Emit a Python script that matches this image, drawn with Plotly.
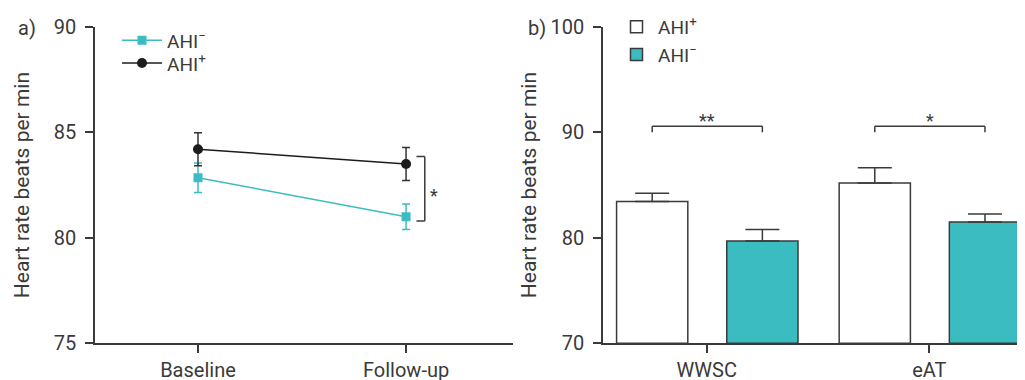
import plotly.graph_objects as go

# ---- data: panel a) ----
time_points = ["Baseline", "Follow-up"]
ahi_neg_hr = [82.85, 81.0]
ahi_neg_sem = [0.7, 0.6]
ahi_pos_hr = [84.2, 83.5]
ahi_pos_sem = [0.78, 0.78]
left_ticks = [75, 80, 85, 90]

# ---- data: panel b) ----
settings = ["WWSC", "eAT"]
bar_pos_hr = [83.45, 85.2]
bar_pos_sem = [0.78, 1.44]
bar_neg_hr = [79.7, 81.5]
bar_neg_sem = [1.1, 0.75]
right_ticks = [70, 80, 90, 100]

TEAL = "#3bbcc0"
DARK = "#1c1c1c"
AXC = "#3a3a3a"
FONT = "Roboto, 'Open Sans', sans-serif"
# page body has an 8px margin: figure is placed at (8, 8) in the window
OFF = 8
W, H = 1025 - OFF, 380 - OFF


def px(xw):
    return (xw - OFF) / W


def py(yw):
    return 1 - (yw - OFF) / H


fig = go.Figure()

# panel a) lines
fig.add_trace(go.Scatter(
    x=time_points, y=ahi_neg_hr, name="AHI<sup>−</sup>", mode="lines+markers",
    line=dict(color=TEAL, width=1.5), marker=dict(symbol="square", size=9, color=TEAL),
    error_y=dict(type="data", array=ahi_neg_sem, color=TEAL, thickness=1.5, width=4),
    xaxis="x", yaxis="y", legend="legend", showlegend=True))
fig.add_trace(go.Scatter(
    x=time_points, y=ahi_pos_hr, name="AHI<sup>+</sup>", mode="lines+markers",
    line=dict(color=DARK, width=1.5), marker=dict(symbol="circle", size=10, color=DARK),
    error_y=dict(type="data", array=ahi_pos_sem, color="#333333", thickness=1.5, width=4),
    xaxis="x", yaxis="y", legend="legend3", showlegend=True))

# panel b) bars
BW = 0.32
OFF_POS, OFF_NEG = -0.405, 0.09
fig.add_trace(go.Bar(
    x=settings, y=[v - right_ticks[0] for v in bar_pos_hr], base=right_ticks[0],
    name="AHI<sup>+</sup>", width=BW, offset=OFF_POS,
    marker=dict(color="white", line=dict(color=AXC, width=1.5)),
    error_y=dict(type="data", symmetric=False, array=bar_pos_sem, arrayminus=[0, 0],
                 color=AXC, thickness=1.5, width=17),
    xaxis="x2", yaxis="y2", legend="legend2", showlegend=True))
fig.add_trace(go.Bar(
    x=settings, y=[v - right_ticks[0] for v in bar_neg_hr], base=right_ticks[0],
    name="AHI<sup>−</sup>", width=BW, offset=OFF_NEG,
    marker=dict(color=TEAL, line=dict(color=AXC, width=1.5)),
    error_y=dict(type="data", symmetric=False, array=bar_neg_sem, arrayminus=[0, 0],
                 color=AXC, thickness=1.5, width=17),
    xaxis="x2", yaxis="y2", legend="legend2", showlegend=True))

shapes = []
annotations = []

# significance bracket panel a) (at follow-up)
bx = 1 + 0.09
by0 = ahi_neg_hr[1] - 0.2
by1 = ahi_pos_hr[1] + 0.35
for yy in (by0, by1):
    shapes.append(dict(type="line", xref="x", yref="y", x0=bx - 0.04, x1=bx, y0=yy, y1=yy,
                       line=dict(color=AXC, width=1.5)))
shapes.append(dict(type="line", xref="x", yref="y", x0=bx, x1=bx, y0=by0, y1=by1,
                   line=dict(color=AXC, width=1.5)))
annotations.append(dict(text="*", xref="x", yref="y", x=bx + 0.045, y=(by0 + by1) / 2 - 0.3,
                        showarrow=False, xanchor="center", yanchor="middle",
                        font=dict(size=18, color=AXC, family=FONT)))

# significance brackets panel b)
stars = ["**", "*"]
for i, s in enumerate(stars):
    xa = i + OFF_POS + BW / 2
    xb = i + OFF_NEG + BW / 2
    ytop, ybot = 90.57, 90.0
    shapes.append(dict(type="line", xref="x2", yref="y2", x0=xa, x1=xb, y0=ytop, y1=ytop,
                       line=dict(color=AXC, width=1.5)))
    for xx in (xa, xb):
        shapes.append(dict(type="line", xref="x2", yref="y2", x0=xx, x1=xx, y0=ybot, y1=ytop,
                           line=dict(color=AXC, width=1.5)))
    annotations.append(dict(text=s, xref="x2", yref="y2", x=(xa + xb) / 2, y=ytop - 0.63,
                            showarrow=False, xanchor="center", yanchor="bottom",
                            font=dict(size=18, color=AXC, family=FONT)))

# panel labels
annotations.append(dict(text="a)", xref="paper", yref="paper", x=px(16), y=py(25),
                        xanchor="left", yanchor="middle", showarrow=False,
                        font=dict(size=20, color=AXC, family=FONT)))
annotations.append(dict(text="b)", xref="paper", yref="paper", x=px(526), y=py(25),
                        xanchor="left", yanchor="middle", showarrow=False,
                        font=dict(size=20, color=AXC, family=FONT)))

ydom = [py(343), py(24)]
axis_common = dict(showline=True, linecolor=AXC, linewidth=1.5, ticks="outside",
                   ticklen=8, tickwidth=1.5, tickcolor=AXC, showgrid=False, zeroline=False,
                   tickfont=dict(size=20, color=AXC, family=FONT), automargin=False)

legend_common = dict(xanchor="left", yanchor="top", bgcolor="rgba(0,0,0,0)",
                     font=dict(size=19, color=AXC, family=FONT))

fig.update_layout(
    width=W, height=H, margin=dict(l=0, r=0, t=0, b=0),
    plot_bgcolor="white", paper_bgcolor="white",
    font=dict(family=FONT, color=AXC),
    barmode="overlay", showlegend=True,
    xaxis=dict(domain=[px(95), px(513)], type="category", range=[-0.495, 1.514],
               anchor="y", ticklabelstandoff=0, **axis_common),
    yaxis=dict(domain=ydom, range=[75, 90], tickvals=left_ticks, anchor="x",
               ticklabelstandoff=5,
               title=dict(text="Heart rate beats per min", standoff=18,
                          font=dict(size=21, color=AXC, family=FONT)),
               **axis_common),
    xaxis2=dict(domain=[px(603), px(1021.7)], type="category", range=[-0.466, 1.415],
                anchor="y2", ticklabelstandoff=0, **axis_common),
    yaxis2=dict(domain=ydom, range=[70, 100], tickvals=right_ticks, anchor="x2",
                ticklabelstandoff=5,
                title=dict(text="Heart rate beats per min", standoff=8,
                           font=dict(size=21, color=AXC, family=FONT)),
                **axis_common),
    legend=dict(x=px(117), y=py(18.5), itemwidth=40, visible=True, **legend_common),
    legend3=dict(x=px(117), y=py(41.5), itemwidth=40, visible=True, **legend_common),
    legend2=dict(x=px(615), y=py(5), itemwidth=33, tracegroupgap=9, traceorder="normal",
                 visible=True, **legend_common),
    shapes=shapes, annotations=annotations,
)

fig.write_html("out.html")
